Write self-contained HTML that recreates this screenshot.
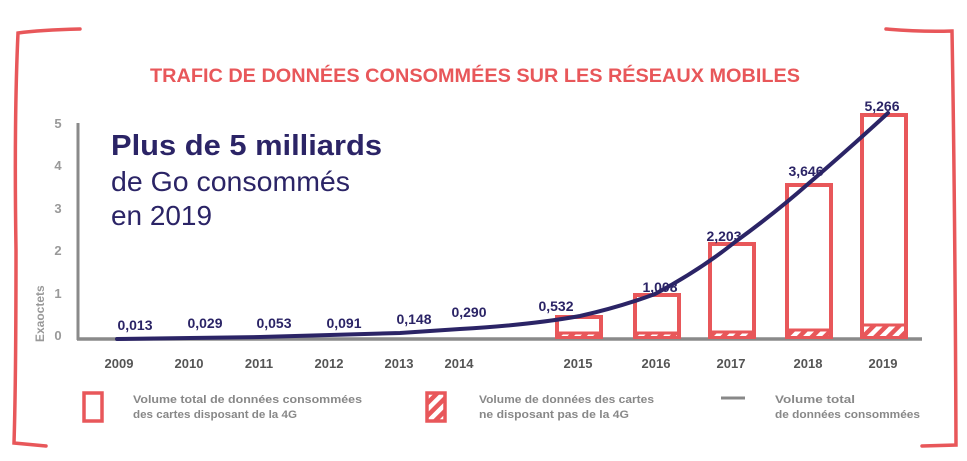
<!DOCTYPE html>
<html><head><meta charset="utf-8"><style>
html,body{margin:0;padding:0;background:#fff;}
svg{display:block;}
text{font-family:"Liberation Sans",sans-serif;}
</style></head><body>
<svg width="967" height="461" viewBox="0 0 967 461" xmlns="http://www.w3.org/2000/svg">
<defs>
<pattern id="h" patternUnits="userSpaceOnUse" width="9" height="9" patternTransform="rotate(45)">
<rect width="9" height="9" fill="#fff"/><rect width="4.5" height="9" fill="#e8575a"/>
</pattern>
</defs>
<g fill="none" stroke="#e8575a" stroke-width="3.5" stroke-linecap="round">
<path d="M80 29 Q40 30 18 33 Q14 120 16 250 Q16 380 14 443 L46 446"/>
<path d="M886 29 Q920 32 952 31 Q955 200 956 445 L922 446"/>
</g>
<text x="150" y="82" textLength="650" lengthAdjust="spacingAndGlyphs" font-size="19" font-weight="bold" fill="#e8575a">TRAFIC DE DONNÉES CONSOMMÉES SUR LES RÉSEAUX MOBILES</text>
<line x1="78" y1="123" x2="78" y2="340" stroke="#8a8a8a" stroke-width="3"/>
<line x1="77" y1="339" x2="922" y2="339" stroke="#8a8a8a" stroke-width="3.5"/>
<g font-size="13" font-weight="bold" fill="#999" text-anchor="middle">
<text x="58" y="128">5</text><text x="58" y="170">4</text><text x="58" y="213">3</text><text x="58" y="255">2</text><text x="58" y="298">1</text><text x="58" y="340">0</text>
</g>
<text transform="translate(44,342) rotate(-90)" font-size="12" font-weight="bold" fill="#999">Exaoctets</text>
<text x="111" y="155" font-size="29" font-weight="bold" fill="#2b2466" textLength="271" lengthAdjust="spacingAndGlyphs">Plus de 5 milliards</text>
<text x="111" y="191" font-size="28" fill="#2b2466" textLength="239" lengthAdjust="spacingAndGlyphs">de Go consommés</text>
<text x="111" y="225" font-size="28" fill="#2b2466" textLength="101" lengthAdjust="spacingAndGlyphs">en 2019</text>
<g fill="none" stroke="#e8575a" stroke-width="4">
<rect x="557" y="317" width="44" height="20"/>
<rect x="635" y="295" width="44" height="42"/>
<rect x="710" y="244" width="44" height="93"/>
<rect x="787" y="185" width="44" height="152"/>
<rect x="862" y="115" width="44" height="222"/>
</g>
<g fill="url(#h)">
<rect x="559" y="334" width="40" height="2"/>
<rect x="637" y="334" width="40" height="2"/>
<rect x="712" y="333" width="40" height="3"/>
<rect x="789" y="331" width="40" height="5"/>
<rect x="864" y="326" width="40" height="10"/>
</g>
<g stroke="#e8575a" stroke-width="3"><line x1="557" y1="333" x2="601" y2="333"/><line x1="635" y1="333" x2="679" y2="333"/><line x1="710" y1="332" x2="754" y2="332"/><line x1="787" y1="330" x2="831" y2="330"/><line x1="862" y1="325" x2="906" y2="325"/></g>
<path d="M117 339 L190 338 L260 337 L330 335 L400 333 L460 329 Q530 325 580 316 Q620 307 655 294 Q700 270 735 242 Q775 213 808 184 Q850 148 888 113" fill="none" stroke="#2b2466" stroke-width="4" stroke-linecap="round"/>
<g font-size="14" font-weight="bold" fill="#2b2466" text-anchor="middle">
<text x="135" y="330">0,013</text><text x="205" y="328">0,029</text><text x="274" y="328">0,053</text><text x="344" y="328">0,091</text><text x="414" y="324">0,148</text><text x="469" y="317">0,290</text><text x="556" y="311">0,532</text><text x="660" y="292">1,008</text><text x="724" y="241">2,203</text><text x="806" y="176">3,646</text><text x="882" y="111">5,266</text>
</g>
<g font-size="13" font-weight="bold" fill="#555" text-anchor="middle">
<text x="119" y="368">2009</text><text x="189" y="368">2010</text><text x="259" y="368">2011</text><text x="329" y="368">2012</text><text x="399" y="368">2013</text><text x="459" y="368">2014</text><text x="578" y="368">2015</text><text x="656" y="368">2016</text><text x="731" y="368">2017</text><text x="808" y="368">2018</text><text x="883" y="368">2019</text>
</g>
<rect x="84" y="393" width="18" height="28" fill="none" stroke="#e8575a" stroke-width="3.5"/>
<rect x="427" y="393" width="18" height="28" fill="url(#h)" stroke="#e8575a" stroke-width="3.5"/>
<line x1="721" y1="398" x2="745" y2="398" stroke="#888" stroke-width="3"/>
<g font-size="11" fill="#888" font-weight="bold">
<text x="133" y="403" textLength="229" lengthAdjust="spacingAndGlyphs">Volume total de données consommées</text><text x="133" y="418" textLength="164" lengthAdjust="spacingAndGlyphs">des cartes disposant de la 4G</text>
<text x="479" y="403" textLength="175" lengthAdjust="spacingAndGlyphs">Volume de données des cartes</text><text x="479" y="418" textLength="150" lengthAdjust="spacingAndGlyphs">ne disposant pas de la 4G</text>
<text x="775" y="403" textLength="80" lengthAdjust="spacingAndGlyphs">Volume total</text><text x="775" y="418" textLength="145" lengthAdjust="spacingAndGlyphs">de données consommées</text>
</g>
</svg>
</body></html>
